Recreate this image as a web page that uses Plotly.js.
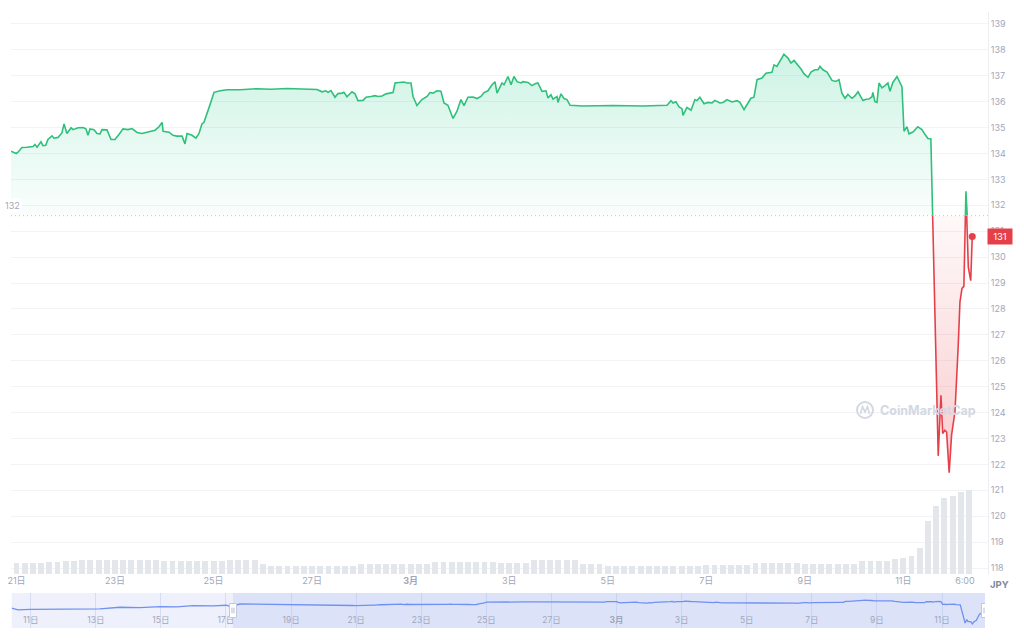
<!DOCTYPE html>
<html>
<head>
<meta charset="utf-8">
<script src="https://cdn.plot.ly/plotly-3.0.1.min.js"></script>
<style>
html,body{margin:0;padding:0;background:#fff;}
#chart{width:1024px;height:640px;}
</style>
</head>
<body>
<div id="chart"></div>
<script>
// ---------------- DATA ----------------
const priceDates = [
'2023-02-20 21:20','2023-02-20 23:50','2023-02-21 00:45','2023-02-21 02:40','2023-02-21 05:10','2023-02-21 08:05',
'2023-02-21 09:00','2023-02-21 10:00','2023-02-21 11:55','2023-02-21 12:55','2023-02-21 14:15','2023-02-21 15:20',
'2023-02-21 17:20','2023-02-21 18:15','2023-02-21 20:15','2023-02-21 22:10','2023-02-21 23:10','2023-02-22 00:35',
'2023-02-22 02:35','2023-02-22 03:30','2023-02-22 06:00','2023-02-22 08:25','2023-02-22 09:50','2023-02-22 10:50',
'2023-02-22 11:50','2023-02-22 13:45','2023-02-22 15:15','2023-02-22 16:40','2023-02-22 17:40','2023-02-22 20:05',
'2023-02-22 22:05','2023-02-23 00:00','2023-02-23 01:55','2023-02-23 03:55','2023-02-23 06:20','2023-02-23 08:15',
'2023-02-23 10:45','2023-02-23 13:10','2023-02-23 16:05','2023-02-23 19:30','2023-02-23 21:25','2023-02-23 22:55',
'2023-02-23 23:25','2023-02-24 02:20','2023-02-24 04:15','2023-02-24 06:10','2023-02-24 08:40','2023-02-24 10:05',
'2023-02-24 11:05','2023-02-24 13:30','2023-02-24 15:25','2023-02-24 16:55','2023-02-24 18:20','2023-02-24 19:20',
'2023-02-24 21:45','2023-02-25 00:15','2023-02-25 03:10','2023-02-25 06:35','2023-02-25 12:55','2023-02-25 21:10',
'2023-02-26 04:00','2023-02-26 11:45','2023-02-26 19:00','2023-02-27 02:25','2023-02-27 04:50','2023-02-27 06:45',
'2023-02-27 07:45','2023-02-27 09:10','2023-02-27 11:10','2023-02-27 12:35','2023-02-27 14:35','2023-02-27 15:30',
'2023-02-27 17:00','2023-02-27 19:25','2023-02-27 20:55','2023-02-27 22:20','2023-02-28 00:50','2023-02-28 02:15',
'2023-02-28 04:40','2023-02-28 06:40','2023-02-28 08:05','2023-02-28 10:05','2023-02-28 12:00','2023-02-28 13:55',
'2023-02-28 15:25','2023-02-28 16:25','2023-02-28 18:20','2023-02-28 20:45','2023-02-28 22:15','2023-03-01 00:10',
'2023-03-01 01:10','2023-03-01 03:05','2023-03-01 05:30','2023-03-01 08:00','2023-03-01 09:25','2023-03-01 10:55',
'2023-03-01 12:50','2023-03-01 14:45','2023-03-01 16:15','2023-03-01 18:10','2023-03-01 20:40','2023-03-01 22:35',
'2023-03-02 00:30','2023-03-02 02:00','2023-03-02 03:55','2023-03-02 06:25','2023-03-02 08:20','2023-03-02 10:15',
'2023-03-02 11:45','2023-03-02 13:40','2023-03-02 15:40','2023-03-02 17:05','2023-03-02 18:05','2023-03-02 20:30',
'2023-03-02 21:30','2023-03-02 23:25','2023-03-03 00:55','2023-03-03 02:20','2023-03-03 03:50','2023-03-03 05:45',
'2023-03-03 06:45','2023-03-03 09:10','2023-03-03 11:05','2023-03-03 12:35','2023-03-03 14:00','2023-03-03 16:00',
'2023-03-03 17:55','2023-03-03 18:55','2023-03-03 20:20','2023-03-03 21:20','2023-03-03 23:20','2023-03-03 23:45',
'2023-03-04 01:15','2023-03-04 02:40','2023-03-04 04:10','2023-03-04 05:40','2023-03-04 11:55','2023-03-05 02:35',
'2023-03-05 17:10','2023-03-06 04:55','2023-03-06 06:50','2023-03-06 07:50','2023-03-06 09:15','2023-03-06 10:45',
'2023-03-06 12:10','2023-03-06 12:40','2023-03-06 14:35','2023-03-06 16:35','2023-03-06 18:30','2023-03-06 19:30',
'2023-03-06 20:55','2023-03-06 22:55','2023-03-07 00:50','2023-03-07 02:50','2023-03-07 04:15','2023-03-07 06:40',
'2023-03-07 08:10','2023-03-07 10:05','2023-03-07 12:30','2023-03-07 15:00','2023-03-07 16:25','2023-03-07 18:25',
'2023-03-07 19:50','2023-03-07 21:45','2023-03-07 23:15','2023-03-08 00:45','2023-03-08 03:10','2023-03-08 05:05',
'2023-03-08 08:00','2023-03-08 09:00','2023-03-08 10:25','2023-03-08 11:55','2023-03-08 13:50','2023-03-08 15:50',
'2023-03-08 17:15','2023-03-08 18:45','2023-03-08 20:10','2023-03-08 22:10','2023-03-08 23:35','2023-03-09 01:35',
'2023-03-09 03:00','2023-03-09 04:55','2023-03-09 06:25','2023-03-09 07:25','2023-03-09 08:50','2023-03-09 10:50',
'2023-03-09 13:15','2023-03-09 15:10','2023-03-09 16:40','2023-03-09 18:05','2023-03-09 19:35','2023-03-09 21:00',
'2023-03-09 23:00','2023-03-10 00:25','2023-03-10 01:55','2023-03-10 04:20','2023-03-10 05:50','2023-03-10 07:15',
'2023-03-10 08:45','2023-03-10 09:10','2023-03-10 10:10','2023-03-10 11:10','2023-03-10 12:10','2023-03-10 13:35',
'2023-03-10 15:05','2023-03-10 16:30','2023-03-10 17:30','2023-03-10 18:55','2023-03-10 20:55','2023-03-10 22:20',
'2023-03-10 23:20','2023-03-11 00:20','2023-03-11 01:45','2023-03-11 02:45','2023-03-11 04:40','2023-03-11 07:05',
'2023-03-11 09:05','2023-03-11 10:30','2023-03-11 12:00','2023-03-11 13:25','2023-03-11 17:00','2023-03-11 18:20',
'2023-03-11 19:10','2023-03-11 20:15','2023-03-11 21:05','2023-03-11 22:20','2023-03-11 23:30','2023-03-12 01:10',
'2023-03-12 02:45','2023-03-12 03:35','2023-03-12 04:35','2023-03-12 05:30','2023-03-12 06:30','2023-03-12 07:40',
'2023-03-12 08:50','2023-03-12 09:35'
];
const prices = [
134.09,134.00,134.05,134.23,134.24,134.27,
134.35,134.24,134.45,134.30,134.32,134.54,
134.68,134.59,134.62,134.80,135.14,134.77,
134.99,134.92,134.99,135.00,134.95,134.70,
134.95,134.92,134.77,134.76,134.92,134.91,
134.54,134.54,134.73,134.95,134.92,134.96,
134.81,134.77,134.83,134.90,135.03,135.20,
134.86,134.82,134.70,134.67,134.67,134.37,
134.77,134.70,134.59,134.77,135.14,135.20,
135.76,136.36,136.42,136.46,136.46,136.50,
136.48,136.51,136.49,136.47,136.38,136.42,
136.36,136.43,136.17,136.31,136.33,136.36,
136.19,136.38,136.30,136.04,136.05,136.17,
136.20,136.23,136.20,136.22,136.30,136.33,
136.35,136.72,136.74,136.76,136.72,136.72,
136.20,135.85,136.08,136.20,136.35,136.33,
136.42,136.40,135.95,135.86,135.35,135.63,
136.08,135.85,136.17,136.18,136.12,136.20,
136.35,136.42,136.65,136.77,136.33,136.72,
136.65,136.97,136.65,136.97,136.77,136.72,
136.77,136.74,136.62,136.69,136.72,136.40,
136.42,136.14,136.27,136.10,136.20,135.97,
136.30,136.12,136.08,135.86,135.83,135.85,
135.83,135.86,136.04,135.95,136.00,135.80,
135.73,135.47,135.78,135.67,136.08,136.04,
136.17,135.92,135.97,135.95,136.05,135.95,
135.97,136.08,135.99,136.04,135.97,135.69,
135.88,136.13,136.17,136.85,136.91,137.10,
137.13,137.42,137.36,137.59,137.83,137.68,
137.49,137.59,137.46,137.26,137.08,136.94,
137.14,137.23,137.23,137.36,137.23,137.14,
136.82,136.78,136.85,136.33,136.13,136.28,
136.13,136.22,136.38,136.04,136.09,136.10,
136.19,136.36,136.00,135.97,136.72,136.53,
136.62,136.72,136.40,136.74,136.97,136.77,
136.58,134.86,135.03,134.76,134.83,135.03,
134.92,134.74,134.58,134.56,122.33,124.67,
123.19,123.32,123.25,121.68,123.13,124.03,
126.59,128.26,128.79,128.87,132.54,129.60,
129.09,130.80
];
const openPrice = 131.60;

// 24h volume (relative units), one bar every 4 hours from volumeStart
const volumeStart = '2023-02-21 00:00';
const volumeStepHours = 4;
const volume = [
11,11,11.5,11.5,12,12.5,13,13.5,
14,14,14,14,14,14,14,14,14,14,
13,13,13,13,13,13,13,13,
14,14,14,14,
10,
8.5,8.5,8.5,8.5,8.5,8.5,8.5,8.5,8.5,8.5,8.5,
10.5,10.5,10.5,10.5,10.5,10.5,10.5,10.5,10.5,
12,12,12,12,12,12,12,12,
11.5,11.5,11.5,11.5,
14,14,14,14,14,14,
10.5,10.5,10.5,
8,8,8,8,8,8,8,8,8,8,8,8,
9,9,9,9,9,9,
11.5,11.5,11.5,11.5,11.5,11.5,
10,10,10,10,10,10,10,
13,13,13,13,
15.5,16.5,18,26,53,68,76,78,82,84
];

// navigator: earlier history shown only in the overview strip
const navEarlyDates = [
'2023-02-10 10:00','2023-02-10 14:40','2023-02-10 23:30','2023-02-12 02:30','2023-02-13 03:00','2023-02-13 17:50',
'2023-02-14 08:30','2023-02-14 23:20','2023-02-15 11:50','2023-02-15 23:40','2023-02-16 14:20','2023-02-17 00:30',
'2023-02-17 02:50','2023-02-17 10:20','2023-02-18 12:00','2023-02-19 12:00','2023-02-20 12:00'
];
const navEarlyPrices = [
132.4,131.1,131.5,131.6,131.8,132.9,
132.6,133.3,133.1,134.0,133.8,134.25,
133.3,135.1,134.9,134.8,134.6
];

const xTickDates = ['2023-02-21','2023-02-23','2023-02-25','2023-02-27','2023-03-01','2023-03-03',
  '2023-03-05','2023-03-07','2023-03-09','2023-03-11','2023-03-12 06:00'];
const xTickLabels = ['21日','23日','25日','27日','<b>3月</b>','3日','5日','7日','9日','11日','6:00'];
const navTickDates = ['2023-02-11','2023-02-13','2023-02-15','2023-02-17','2023-02-19','2023-02-21','2023-02-23',
  '2023-02-25','2023-02-27','2023-03-01','2023-03-03','2023-03-05','2023-03-07','2023-03-09','2023-03-11'];
const navTickLabels = ['11日','13日','15日','17日','19日','21日','23日','25日','27日','<b>3月</b>','3日','5日','7日','9日','11日'];
const priceTicks = [118,119,120,121,122,123,124,125,126,127,128,129,130,131,132,133,134,135,136,137,138,139];
const currency = 'JPY';

// ---------------- VIEW ----------------
const W = 1024, H = 640;
const px = v => v / W;
const py = v => 1 - v / H;
const mainRange = ['2023-02-20 21:20', '2023-03-12 17:15'];
const navRange = ['2023-02-10 10:00', '2023-03-12 07:40'];
const navSelectStart = '2023-02-17 05:10';
const yMin = 117.77, yMax = 139.46;
const yBot = py(574), yTop = py(12);
const fb = yBot + (openPrice - yMin) / (yMax - yMin) * (yTop - yBot);

const GREEN = '#2fc07c', RED = '#e5404a';
const FONT = 'Inter, "Noto Sans CJK JP", "DejaVu Sans", sans-serif';
const GRAYTXT = '#a1a7bb';

const delta = prices.map(p => p - openPrice);
const maxDelta = Math.max(...delta), minDelta = Math.min(...delta);
const lastIdx = prices.length - 1;

const pad = n => String(n).padStart(2, '0');
const fmt = ms => { const d = new Date(ms); return d.getUTCFullYear() + '-' + pad(d.getUTCMonth() + 1) + '-' + pad(d.getUTCDate()) + ' ' + pad(d.getUTCHours()) + ':' + pad(d.getUTCMinutes()); };
const vStartMs = Date.parse(volumeStart.replace(' ', 'T') + ':00Z');
const stepMs = volumeStepHours * 3600 * 1000;
const volumeDates = volume.map((_, i) => fmt(vStartMs + i * stepMs));

const traces = [
  { // volume
    type: 'bar', x: volumeDates, y: volume, xaxis: 'x', yaxis: 'y4',
    marker: { color: '#e3e6eb', line: { width: 0 } }, width: stepMs * 0.72,
    hoverinfo: 'skip', showlegend: false
  },
  { // above open: green
    type: 'scatter', mode: 'lines', x: priceDates, y: delta, xaxis: 'x', yaxis: 'y2',
    line: { color: GREEN, width: 1.6, shape: 'linear' },
    fill: 'tozeroy',
    fillgradient: { type: 'vertical', start: 0, stop: maxDelta,
      colorscale: [[0, 'rgba(22,199,132,0.02)'], [1, 'rgba(22,199,132,0.21)']] },
    hoverinfo: 'skip', showlegend: false
  },
  { // below open: red
    type: 'scatter', mode: 'lines', x: priceDates, y: delta, xaxis: 'x', yaxis: 'y3',
    line: { color: RED, width: 1.6, shape: 'linear' },
    fill: 'tozeroy',
    fillgradient: { type: 'vertical', start: minDelta, stop: 0,
      colorscale: [[0, 'rgba(234,57,67,0.26)'], [1, 'rgba(234,57,67,0.03)']] },
    hoverinfo: 'skip', showlegend: false
  },
  { // last point
    type: 'scatter', mode: 'markers', x: [priceDates[lastIdx]], y: [delta[lastIdx]], xaxis: 'x', yaxis: 'y3',
    marker: { color: RED, size: 7 }, cliponaxis: false, hoverinfo: 'skip', showlegend: false
  },
  { // navigator line
    type: 'scatter', mode: 'lines', x: navEarlyDates.concat(priceDates), y: navEarlyPrices.concat(prices),
    xaxis: 'x2', yaxis: 'y5', line: { color: '#7190f0', width: 1.3 },
    hoverinfo: 'skip', showlegend: false
  }
];

function pxPath(points) {
  return points.map((p, i) => (i ? 'L' : 'M') + px(p[0]).toFixed(5) + ',' + py(p[1]).toFixed(5)).join(' ');
}

const shapes = [
  // navigator background + selected window
  { type: 'rect', xref: 'x2 domain', yref: 'y5 domain', x0: 0, x1: 1, y0: 0, y1: 1,
    fillcolor: '#eef1fc', line: { width: 0 }, layer: 'below' },
  { type: 'rect', xref: 'x2', yref: 'y5 domain', x0: navSelectStart, x1: navRange[1], y0: 0, y1: 1,
    fillcolor: '#dce3f9', line: { width: 0 }, layer: 'below' },
  // baseline (open price)
  { type: 'line', xref: 'x domain', yref: 'y', x0: 0, x1: 1, y0: openPrice, y1: openPrice,
    line: { color: '#bfc5d2', width: 1, dash: '1px,3px' }, layer: 'above' },
  // watermark logo
  { type: 'circle', xref: 'paper', yref: 'paper', x0: px(857), x1: px(873), y0: py(418), y1: py(402),
    line: { color: '#d3d8e3', width: 2 } },
  { type: 'path', xref: 'paper', yref: 'paper',
    path: pxPath([[860.5, 414], [862.5, 406.5], [865, 412], [867.5, 406.5], [869.5, 414]]),
    line: { color: '#d3d8e3', width: 1.6 } }
];
// navigator handles
[navSelectStart, navRange[1]].forEach(d => {
  shapes.push({ type: 'rect', xref: 'x2', yref: 'y5 domain', xsizemode: 'pixel', xanchor: d,
    x0: -3.5, x1: 3.5, y0: 0.30, y1: 0.70, fillcolor: '#ffffff', line: { color: '#c3c9da', width: 1 }, layer: 'above' });
  [-1, 1].forEach(o => shapes.push({ type: 'line', xref: 'x2', yref: 'y5 domain', xsizemode: 'pixel', xanchor: d,
    x0: o, x1: o, y0: 0.42, y1: 0.58, line: { color: '#b5bccd', width: 1 }, layer: 'above' }));
});

const annotations = [
  { xref: 'paper', yref: 'y', x: px(3), y: openPrice, xanchor: 'left', yanchor: 'bottom', yshift: 3,
    text: String(Math.round(openPrice)), showarrow: false, bgcolor: '#ffffff',
    font: { family: FONT, size: 9, color: GRAYTXT } },
  { xref: 'paper', yref: 'y', x: px(987), y: prices[lastIdx], xanchor: 'left', yanchor: 'middle',
    text: String(Math.round(prices[lastIdx])), showarrow: false, bgcolor: RED, borderpad: 2,
    width: 20, font: { family: FONT, size: 9.5, color: '#ffffff' } },
  { xref: 'paper', yref: 'paper', x: px(999.5), y: py(584), xanchor: 'center', yanchor: 'middle',
    text: '<b>' + currency + '</b>', showarrow: false, font: { family: FONT, size: 9.5, color: '#808a9d' } },
  { xref: 'paper', yref: 'paper', x: px(878), y: py(410), xanchor: 'left', yanchor: 'middle',
    text: '<b>CoinMarketCap</b>', showarrow: false, font: { family: FONT, size: 12.5, color: '#d3d8e3' } }
];

const layout = {
  width: W, height: H,
  margin: { l: 0, r: 0, t: 0, b: 0, pad: 0 },
  paper_bgcolor: '#ffffff', plot_bgcolor: 'rgba(0,0,0,0)',
  font: { family: FONT, size: 9, color: GRAYTXT },
  showlegend: false, bargap: 0,
  xaxis: {
    type: 'date', domain: [px(11), px(988)], range: mainRange, anchor: 'y',
    tickmode: 'array', tickvals: xTickDates, ticktext: xTickLabels,
    showgrid: false, zeroline: false, showline: false, ticks: '',
    tickfont: { family: FONT, size: 9, color: GRAYTXT }, fixedrange: true
  },
  yaxis: {
    domain: [yBot, yTop], range: [yMin, yMax], side: 'right', anchor: 'x',
    tickmode: 'array', tickvals: priceTicks, ticktext: priceTicks.map(String),
    showgrid: true, gridcolor: '#f2f3f6', gridwidth: 1, zeroline: false,
    showline: true, linecolor: '#eceef2', linewidth: 1, ticks: '',
    tickfont: { family: FONT, size: 9, color: GRAYTXT }, fixedrange: true
  },
  yaxis2: { domain: [fb, yTop], range: [0, yMax - openPrice], anchor: 'x', visible: false, fixedrange: true },
  yaxis3: { domain: [yBot, fb], range: [yMin - openPrice, 0], anchor: 'x', visible: false, fixedrange: true },
  yaxis4: { overlaying: 'y', range: [0, 562], visible: false, fixedrange: true },
  xaxis2: {
    type: 'date', domain: [px(11.7), px(985)], range: navRange, anchor: 'y5',
    tickmode: 'array', tickvals: navTickDates, ticktext: navTickLabels,
    ticklabelposition: 'inside', ticks: '',
    showgrid: true, gridcolor: 'rgba(170,180,225,0.35)', gridwidth: 1,
    zeroline: false, showline: false,
    tickfont: { family: FONT, size: 8.5, color: GRAYTXT }, fixedrange: true
  },
  yaxis5: { domain: [py(628), py(593)], range: [118.95, 142.5], anchor: 'x2', visible: false, fixedrange: true },
  shapes: shapes,
  annotations: annotations
};

Plotly.newPlot('chart', traces, layout, { displayModeBar: false, staticPlot: true });
</script>
</body>
</html>
